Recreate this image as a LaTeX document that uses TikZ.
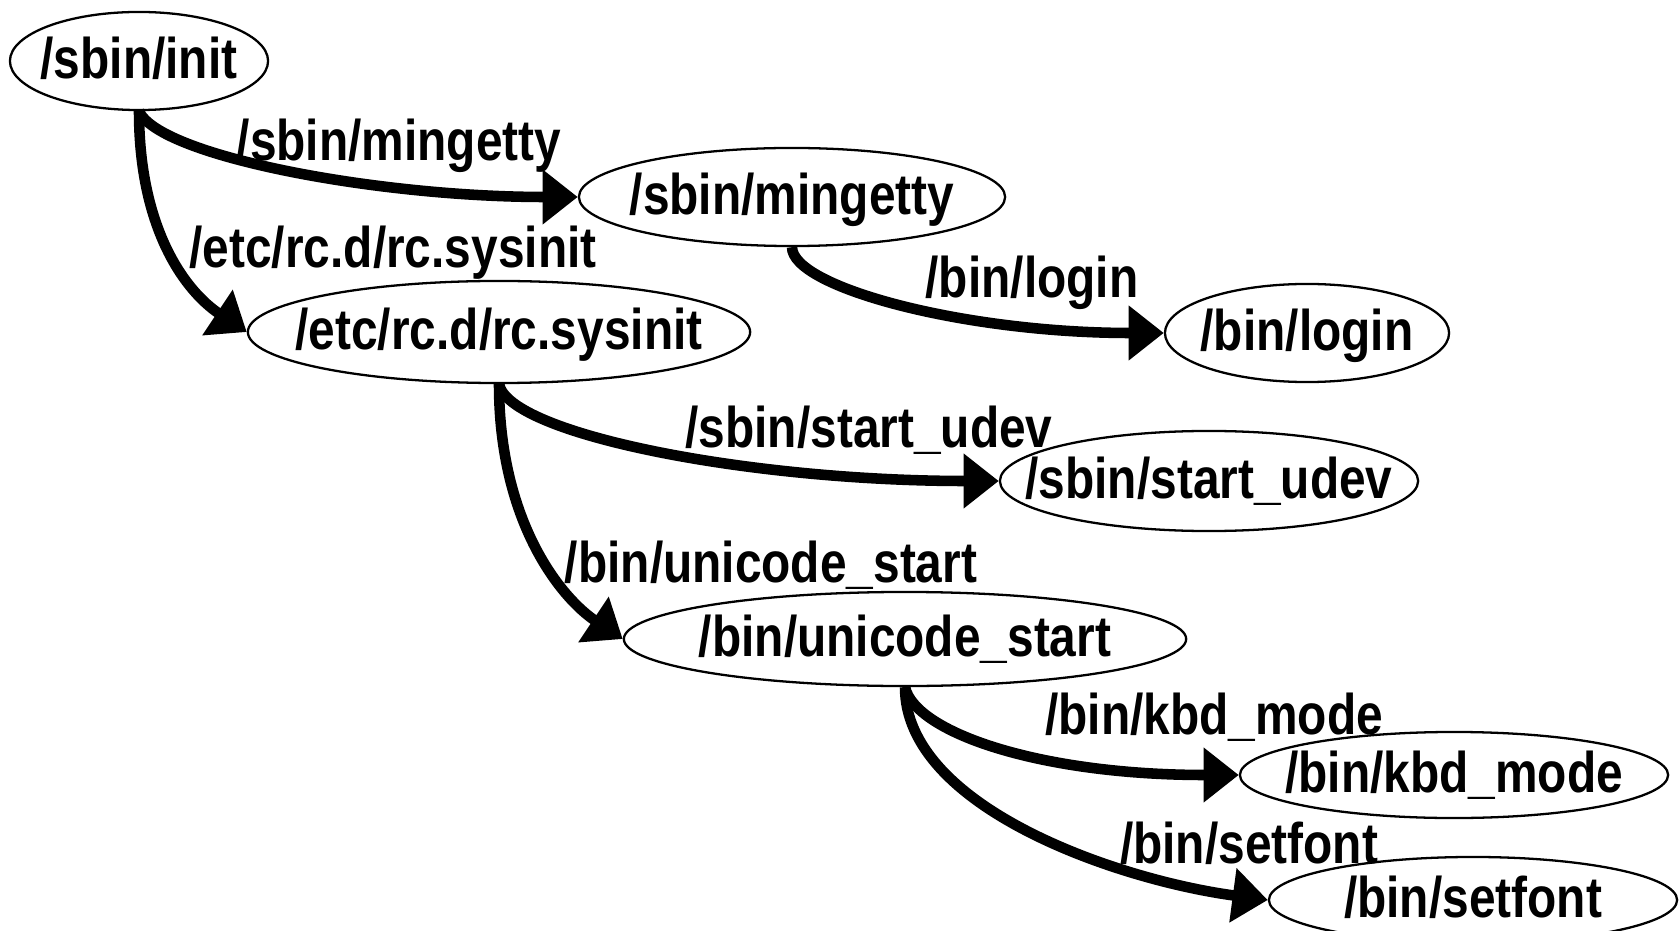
\documentclass[tikz,border=0pt]{standalone}
\usepackage{fontspec}
\setmainfont{Liberation Sans}[FakeStretch=0.835]
\usetikzlibrary{arrows.meta,shapes.geometric}
\begin{document}
\begin{tikzpicture}[x=0.01cm,y=-0.01cm,
  every node/.style={font=\fontsize{16.3}{19}\selectfont\bfseries},
  proc/.style={draw, ellipse, line width=0.65pt, inner sep=0pt, text height=1.0em, text depth=0pt},
  edge/.style={line width=3pt, -{Triangle[length=10pt,width=15pt]}},
  lbl/.style={inner sep=0pt, text height=0.98em, text depth=0pt}]
\useasboundingbox (0,0) rectangle (1680,931);
\clip (0,0) rectangle (1680,931);
\node[proc, minimum width=2.58cm, minimum height=0.98cm] (init) at (139,61) {\makebox[0pt]{/sbin/init}};
\node[proc, minimum width=4.26cm, minimum height=0.98cm] (ming) at (792,197) {\makebox[0pt]{/sbin/mingetty}};
\node[proc, minimum width=5.02cm, minimum height=1.02cm] (sys) at (499,332) {\makebox[0pt]{/etc/rc.d/rc.sysinit}};
\node[proc, minimum width=2.84cm, minimum height=0.98cm] (login) at (1307,333) {\makebox[0pt]{/bin/login}};
\node[proc, minimum width=4.18cm, minimum height=1.00cm] (udev) at (1209,481) {\makebox[0pt]{/sbin/start\_udev}};
\node[proc, minimum width=5.62cm, minimum height=0.94cm] (uni) at (905,639) {\makebox[0pt]{/bin/unicode\_start}};
\node[proc, minimum width=4.28cm, minimum height=0.86cm] (kbd) at (1454,775) {\makebox[0pt]{/bin/kbd\_mode}};
\node[proc, minimum width=4.08cm, minimum height=0.86cm] (setf) at (1473,900) {\makebox[0pt]{/bin/setfont}};

\draw[edge] (init.south) .. controls +(20,45) and +(-200,0) .. (ming.west);
\draw[edge] (init.south) .. controls +(0,120) and +(-60,-40) .. (sys.west);
\draw[edge] (ming.south) .. controls +(0,40) and +(-200,0) .. (login.west);
\draw[edge] (sys.south) .. controls +(10,50) and +(-250,0) .. (udev.west);
\draw[edge] (sys.south) .. controls +(0,140) and +(-60,-40) .. (uni.west);
\draw[edge] (uni.south) .. controls +(10,45) and +(-200,0) .. (kbd.west);
\draw[edge] (uni.south) .. controls +(0,120) and +(-150,-20) .. (setf.west);

\node[lbl] (l1) at (399,143) {/sbin/mingetty};
\node[lbl] (l2) at (393,250) {/etc/rc.d/rc.sysinit};
\node[lbl] (l3) at (1032,280) {/bin/login};
\node[lbl] (l4) at (869,430) {/sbin/start\_udev};
\node[lbl] (l5) at (771,565) {/bin/unicode\_start};
\node[lbl] (l6) at (1214,717) {/bin/kbd\_mode};
\node[lbl] (l7) at (1249,846) {/bin/setfont};
\end{tikzpicture}
\end{document}
